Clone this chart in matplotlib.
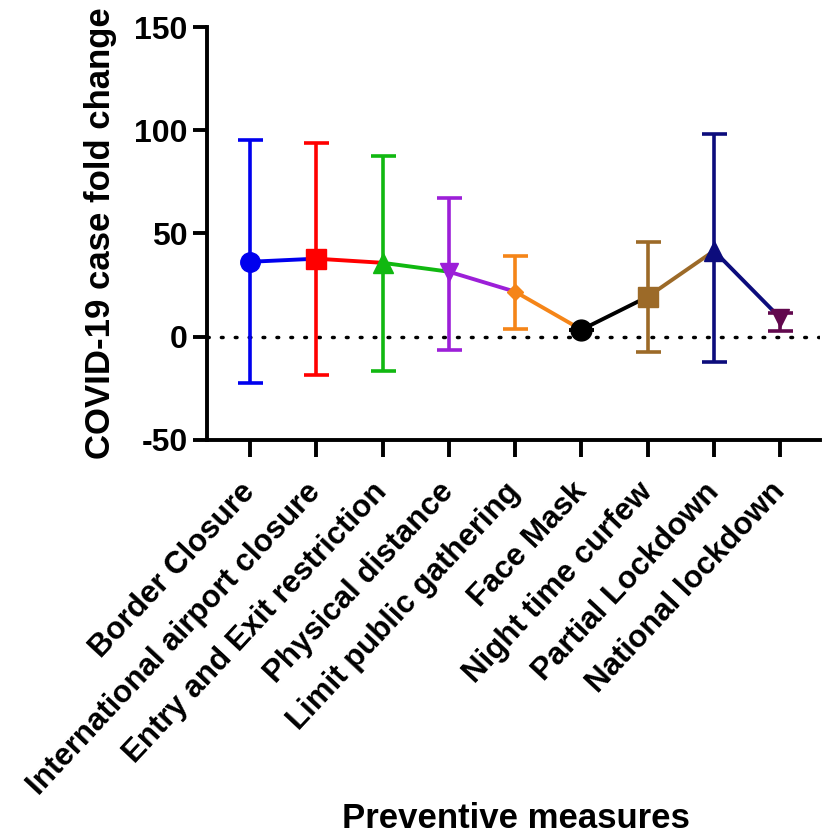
import matplotlib
matplotlib.use("Agg")
import matplotlib.pyplot as plt

# values
measures = ["Border Closure", "International airport closure",
            "Entry and Exit restriction", "Physical distance",
            "Limit public gathering", "Face Mask", "Night time curfew",
            "Partial Lockdown", "National lockdown"]
means = [36.3, 37.8, 35.8, 31.5, 21.8, 3.4, 19.4, 41.6, 9.0]
upper = [95.3, 94.0, 87.6, 67.3, 39.2, 3.4, 46.0, 98.3, 11.5]
lower = [-22.3, -18.4, -16.5, -6.3, 3.9, 3.4, -7.3, -12.1, 3.0]

colors = ["#0000ee", "#ff0000", "#11b811", "#9c1fd8", "#f58518",
          "#000000", "#9c6a28", "#0c0c7c", "#62084e"]
markers = ["o", "s", "^", "v", "D", "o", "s", "^", "v"]
msizes = [14, 14, 14, 13, 8, 15, 14, 14, 13]

plt.rcParams['font.family'] = ['Liberation Sans', 'DejaVu Sans']
plt.rcParams['font.weight'] = 'bold'
plt.rcParams['axes.unicode_minus'] = False

fig = plt.figure(figsize=(8.23, 8.39), dpi=100)
ax = fig.add_axes([0.2515, 0.4756, 0.745, 0.4922])

x = list(range(len(measures)))

ax.axhline(0, color="black", lw=2.5, linestyle=(0, (0.5, 3.5)),
           dash_capstyle="round", zorder=1)

# connecting segments take the colour of the left point
for i in range(len(x) - 1):
    ax.plot([x[i], x[i + 1]], [means[i], means[i + 1]], color=colors[i],
            lw=2.8, zorder=2)

for i in x:
    yerr = [[means[i] - lower[i]], [upper[i] - means[i]]]
    ax.errorbar([i], [means[i]], yerr=yerr, fmt="none", ecolor=colors[i],
                elinewidth=2.6, capsize=9, capthick=2.6, zorder=3)
    ax.plot([i], [means[i]], marker=markers[i], ms=msizes[i],
            color=colors[i], zorder=4)

ax.set_xlim(-0.65, 8.6)
ax.set_ylim(-50, 150)
ax.set_yticks([-50, 0, 50, 100, 150])
ax.set_xticks(x)
ax.set_xticklabels(measures, rotation=47, ha="right", va="center",
                   rotation_mode="anchor", fontsize=22.5, fontweight="bold")
ax.tick_params(axis="y", labelsize=23, width=2.8, length=10, pad=4)
ax.tick_params(axis="x", width=2.8, length=12, pad=22)
for lbl in ax.get_yticklabels():
    lbl.set_fontweight("bold")

for s in ["top", "right"]:
    ax.spines[s].set_visible(False)
for s in ["left", "bottom"]:
    ax.spines[s].set_linewidth(2.8)

ax.set_ylabel("COVID-19 case fold change", fontsize=25, fontweight="bold",
              labelpad=12)
fig.text(0.627, 0.025, "Preventive measures", fontsize=25,
         fontweight="bold", ha="center", va="center")

fig.savefig("out.png", dpi=100)
